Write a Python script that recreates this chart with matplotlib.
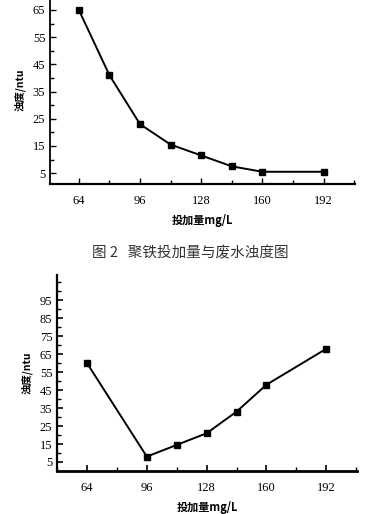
import matplotlib.pyplot as plt
from matplotlib.ticker import MultipleLocator

plt.rcParams['font.family'] = ['Liberation Serif', 'Noto Sans CJK SC']

# 聚铁 dosage vs turbidity
dose1 = [64, 80, 96, 112, 128, 144, 160, 192]
turb1 = [65, 41, 23, 15.5, 11.5, 7.5, 5.5, 5.5]

# second experiment
dose2 = [64, 96, 112, 128, 144, 160, 192]
turb2 = [60, 8, 14.5, 21, 33, 48, 68]

xticks = [64, 96, 128, 160, 192]
yticks1 = [5, 15, 25, 35, 45, 55, 65]
yticks2 = [5, 15, 25, 35, 45, 55, 65, 75, 85, 95]

cjk = ['Noto Sans CJK SC', 'DejaVu Sans']

fig = plt.figure(figsize=(3.86, 5.14), dpi=100)

# top chart
ax1 = fig.add_axes([0.130, 0.642, 0.790, 0.365])
ax1.plot(dose1, turb1, color='black', lw=1.4, marker='s', ms=3.8)
ax1.set_xlim(49, 208.5)
ax1.set_ylim(1, 70)
ax1.set_xticks(xticks)
ax1.set_yticks(yticks1)
ax1.xaxis.set_minor_locator(MultipleLocator(16))
ax1.yaxis.set_minor_locator(MultipleLocator(5))
ax1.tick_params(axis='both', which='major', direction='in', length=4, width=1, labelsize=9)
ax1.tick_params(axis='both', which='minor', direction='in', length=3, width=1)
ax1.tick_params(axis='x', pad=8)
for s in ['top', 'right']:
    ax1.spines[s].set_visible(False)
ax1.spines['left'].set_linewidth(1.3)
ax1.spines['bottom'].set_linewidth(1.6)
ax1.set_ylabel('浊度/ntu', family=cjk, fontsize=7.5, fontweight='bold', labelpad=5)
ax1.set_xlabel('投加量mg/L', family=cjk, fontsize=8, fontweight='bold', labelpad=5)

fig.text(0.492, 0.508, '图 2   聚铁投加量与废水浊度图', family=cjk, fontsize=10.5,
         ha='center', va='center', color='#333333')

# bottom chart
ax2 = fig.add_axes([0.148, 0.0837, 0.777, 0.381])
ax2.plot(dose2, turb2, color='black', lw=1.4, marker='s', ms=3.8)
ax2.set_xlim(48, 208.5)
ax2.set_ylim(0, 109)
ax2.set_xticks(xticks)
ax2.set_yticks(yticks2)
ax2.xaxis.set_minor_locator(MultipleLocator(16))
ax2.yaxis.set_minor_locator(MultipleLocator(5))
ax2.tick_params(axis='both', which='major', direction='in', length=4, width=1.2, labelsize=9)
ax2.tick_params(axis='both', which='minor', direction='in', length=3, width=1)
ax2.tick_params(axis='x', pad=8)
for s in ['top', 'right']:
    ax2.spines[s].set_visible(False)
ax2.spines['left'].set_linewidth(1.6)
ax2.spines['bottom'].set_linewidth(2)
ax2.set_ylabel('浊度/ntu', family=cjk, fontsize=7.5, fontweight='bold', labelpad=5)
ax2.set_xlabel('投加量mg/L', family=cjk, fontsize=8, fontweight='bold', labelpad=5)

fig.savefig('out.png', dpi=100)
